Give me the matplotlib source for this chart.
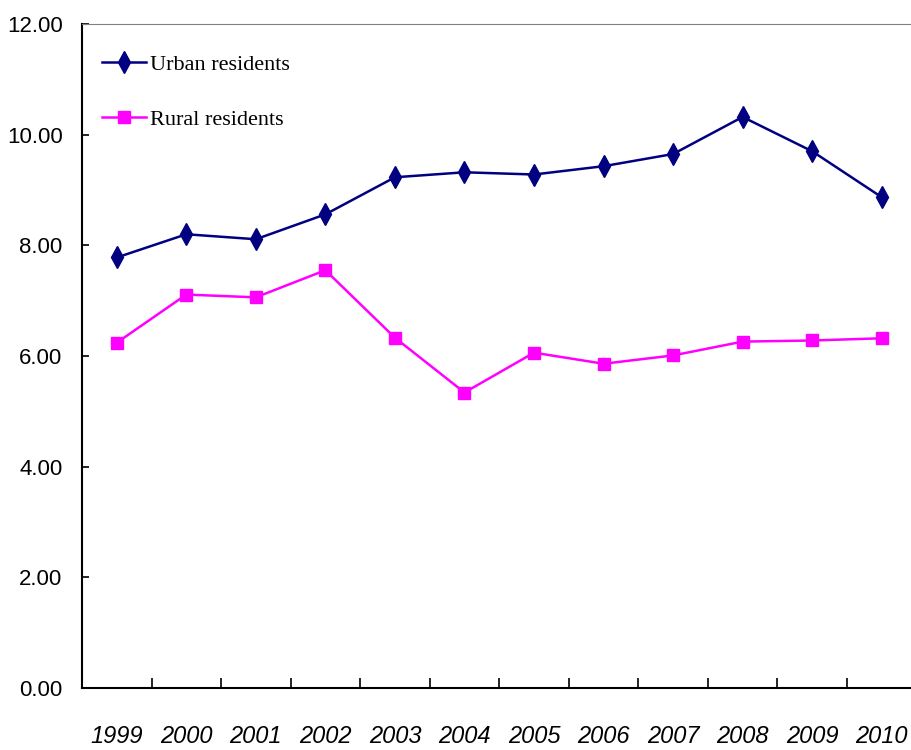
import matplotlib
matplotlib.use("Agg")
import matplotlib.pyplot as plt
import numpy as np

years = ["1999", "2000", "2001", "2002", "2003", "2004", "2005",
         "2006", "2007", "2008", "2009", "2010"]
urban = [7.78, 8.20, 8.11, 8.56, 9.23, 9.32, 9.28, 9.43, 9.65, 10.32, 9.70, 8.87]
rural = [6.24, 7.11, 7.06, 7.55, 6.33, 5.34, 6.06, 5.86, 6.01, 6.26, 6.28, 6.32]

tick_font = ["Liberation Sans Narrow", "Liberation Sans", "DejaVu Sans"]
legend_font = ["Liberation Serif", "DejaVu Serif"]

fig = plt.figure(figsize=(9.12, 7.5), dpi=100)
ax = fig.add_axes([0.0899, 0.0827, 0.915, 0.8853])

x = np.arange(len(years))
ax.plot(x, urban, color="#000080", marker="d", markersize=11, linewidth=1.8,
        label="Urban residents")
ax.plot(x, rural, color="#FF00FF", marker="s", markersize=8, linewidth=1.8,
        label="Rural residents")

ax.set_xlim(-0.5, 11.5)
ax.set_ylim(0, 12)
ax.set_yticks(np.arange(0, 12.1, 2))
ax.set_yticklabels([f"{v:.2f}" for v in np.arange(0, 12.1, 2)],
                   fontsize=16, family=tick_font)
ax.set_xticks(x)
ax.set_xticklabels(years, fontsize=17, family=tick_font, style="italic")
ax.tick_params(axis="x", length=0, pad=27)
ax.set_xticks(np.arange(0.5, 11, 1), minor=True)
ax.tick_params(axis="x", which="minor", direction="in", length=7, width=1.2)
ax.tick_params(axis="y", direction="in", length=5, width=1.2, pad=14)

ax.spines["right"].set_visible(False)
ax.spines["top"].set_color("#808080")
ax.spines["left"].set_linewidth(1.5)
ax.spines["bottom"].set_linewidth(1.5)

ax.legend(loc="upper left", frameon=False, bbox_to_anchor=(0.0, 0.985),
          prop={"family": legend_font, "size": 16}, handlelength=2.0,
          handletextpad=0.15, labelspacing=1.55)

fig.savefig("out.png", dpi=100)
